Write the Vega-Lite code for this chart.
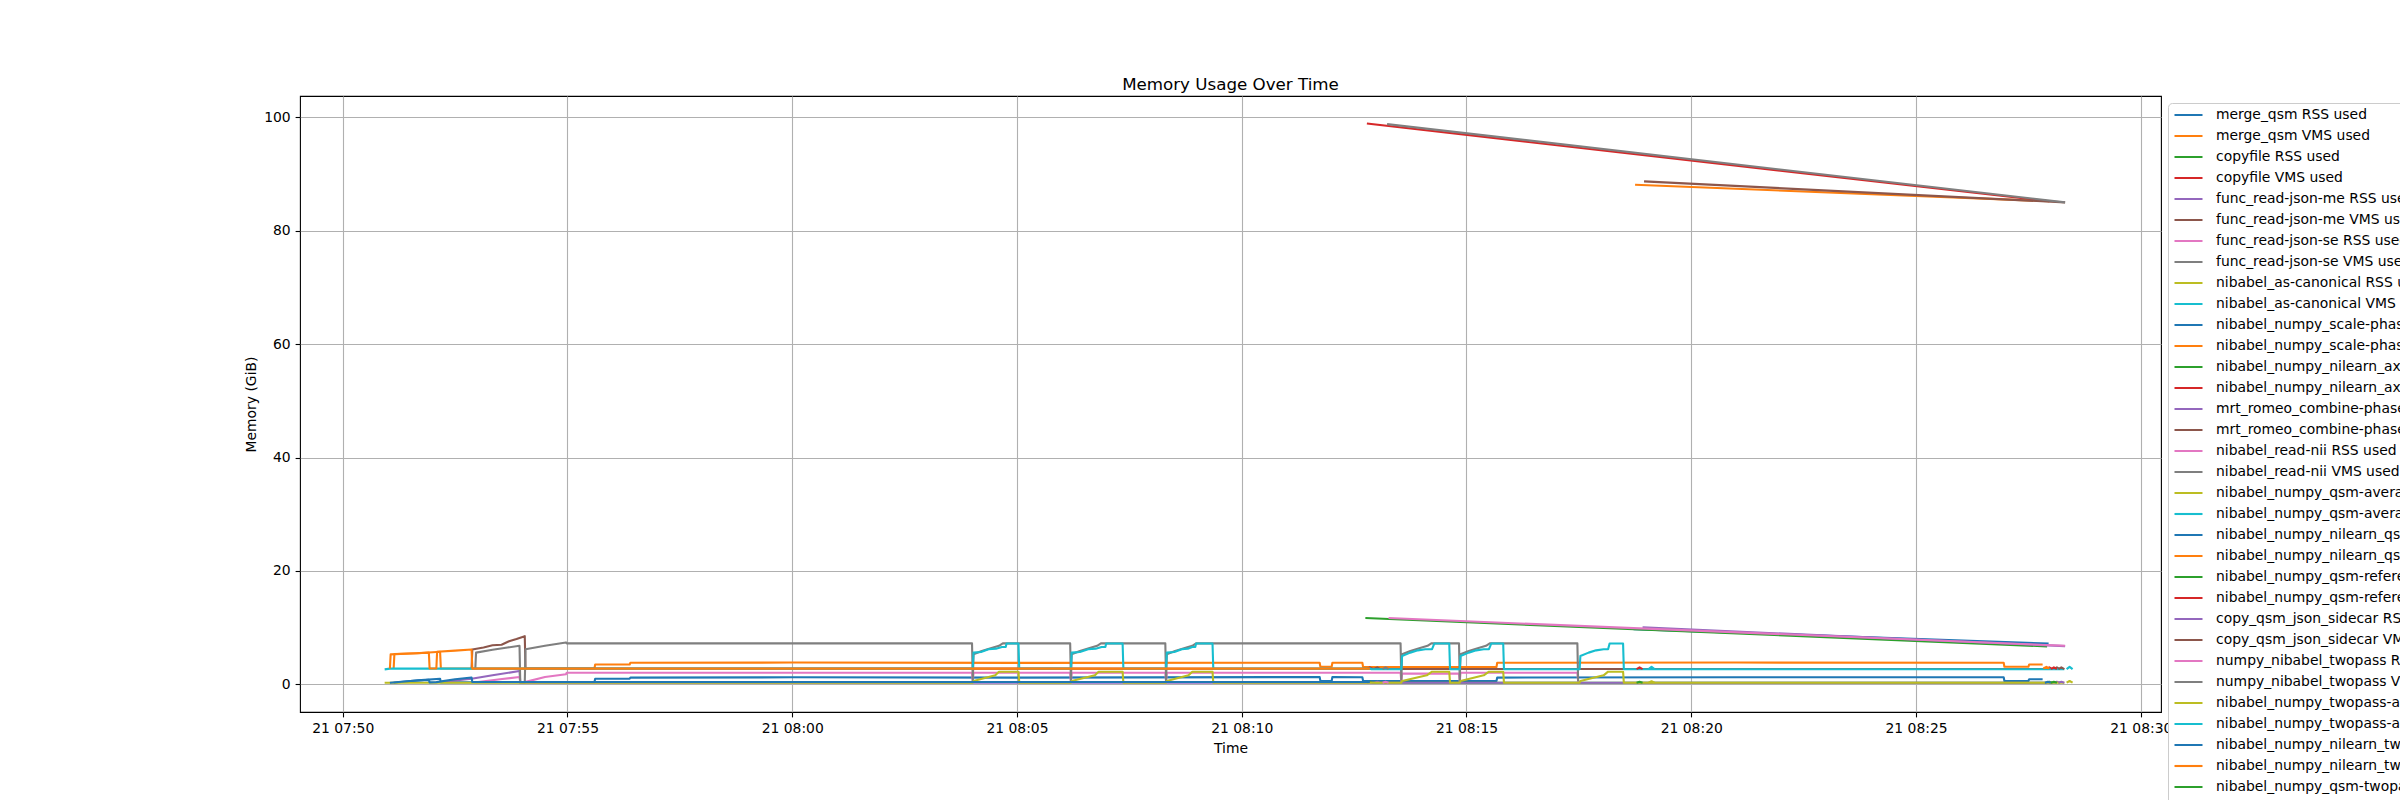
{
  "$schema": "https://vega.github.io/schema/vega-lite/v6.json",
  "width": 1861,
  "height": 616,
  "autosize": {"type": "none"},
  "padding": {"left": 300, "top": 96, "right": 239, "bottom": 88},
  "background": "white",
  "title": {
    "text": "Memory Usage Over Time",
    "fontSize": 16.7,
    "fontWeight": "normal",
    "color": "black",
    "font": "DejaVu Sans",
    "anchor": "middle",
    "offset": 2.5
  },
  "config": {
    "font": "DejaVu Sans",
    "view": {"stroke": "black", "strokeWidth": 1.1},
    "axis": {
      "domain": false,
      "grid": true,
      "gridColor": "#b0b0b0",
      "gridWidth": 1.1,
      "gridOpacity": 1,
      "tickColor": "black",
      "tickSize": 4.9,
      "tickWidth": 1.1,
      "labelPadding": 4.9,
      "labelFont": "DejaVu Sans",
      "labelFontSize": 13.9,
      "labelColor": "black",
      "titleFont": "DejaVu Sans",
      "titleFontSize": 13.9,
      "titleFontWeight": "normal",
      "titleColor": "black",
      "titlePadding": 5.6
    }
  },
  "data": {
    "values": [
      {"series": "merge_qsm RSS used", "time": "2024-05-21T07:51:08", "mem": 0.3},
      {"series": "merge_qsm RSS used", "time": "2024-05-21T07:51:40", "mem": 0.7},
      {"series": "merge_qsm RSS used", "time": "2024-05-21T07:52:10", "mem": 1.0},
      {"series": "merge_qsm RSS used", "time": "2024-05-21T07:52:11", "mem": 0.35},
      {"series": "merge_qsm RSS used", "time": "2024-05-21T07:55:36", "mem": 0.4},
      {"series": "merge_qsm RSS used", "time": "2024-05-21T07:55:37", "mem": 1.0},
      {"series": "merge_qsm RSS used", "time": "2024-05-21T07:56:23", "mem": 1.0},
      {"series": "merge_qsm RSS used", "time": "2024-05-21T07:56:24", "mem": 1.2},
      {"series": "merge_qsm RSS used", "time": "2024-05-21T08:00:00", "mem": 1.25},
      {"series": "merge_qsm RSS used", "time": "2024-05-21T08:05:00", "mem": 1.2},
      {"series": "merge_qsm RSS used", "time": "2024-05-21T08:11:44", "mem": 1.3},
      {"series": "merge_qsm RSS used", "time": "2024-05-21T08:11:45", "mem": 0.6},
      {"series": "merge_qsm RSS used", "time": "2024-05-21T08:12:00", "mem": 0.6},
      {"series": "merge_qsm RSS used", "time": "2024-05-21T08:12:01", "mem": 1.3},
      {"series": "merge_qsm RSS used", "time": "2024-05-21T08:12:41", "mem": 1.25},
      {"series": "merge_qsm RSS used", "time": "2024-05-21T08:12:42", "mem": 0.6},
      {"series": "merge_qsm RSS used", "time": "2024-05-21T08:15:40", "mem": 0.6},
      {"series": "merge_qsm RSS used", "time": "2024-05-21T08:15:41", "mem": 1.2},
      {"series": "merge_qsm RSS used", "time": "2024-05-21T08:21:00", "mem": 1.25},
      {"series": "merge_qsm RSS used", "time": "2024-05-21T08:26:57", "mem": 1.25},
      {"series": "merge_qsm RSS used", "time": "2024-05-21T08:26:58", "mem": 0.6},
      {"series": "merge_qsm RSS used", "time": "2024-05-21T08:27:30", "mem": 0.6},
      {"series": "merge_qsm RSS used", "time": "2024-05-21T08:27:31", "mem": 0.9},
      {"series": "merge_qsm RSS used", "time": "2024-05-21T08:27:49", "mem": 0.9},
      {"series": "merge_qsm VMS used", "time": "2024-05-21T07:51:08", "mem": 2.8},
      {"series": "merge_qsm VMS used", "time": "2024-05-21T07:51:09", "mem": 5.35},
      {"series": "merge_qsm VMS used", "time": "2024-05-21T07:51:40", "mem": 5.5},
      {"series": "merge_qsm VMS used", "time": "2024-05-21T07:52:10", "mem": 5.75},
      {"series": "merge_qsm VMS used", "time": "2024-05-21T07:52:11", "mem": 2.8},
      {"series": "merge_qsm VMS used", "time": "2024-05-21T07:55:36", "mem": 2.8},
      {"series": "merge_qsm VMS used", "time": "2024-05-21T07:55:37", "mem": 3.5},
      {"series": "merge_qsm VMS used", "time": "2024-05-21T07:56:23", "mem": 3.5},
      {"series": "merge_qsm VMS used", "time": "2024-05-21T07:56:24", "mem": 3.82},
      {"series": "merge_qsm VMS used", "time": "2024-05-21T08:00:00", "mem": 3.85},
      {"series": "merge_qsm VMS used", "time": "2024-05-21T08:05:00", "mem": 3.8},
      {"series": "merge_qsm VMS used", "time": "2024-05-21T08:11:44", "mem": 3.82},
      {"series": "merge_qsm VMS used", "time": "2024-05-21T08:11:45", "mem": 3.1},
      {"series": "merge_qsm VMS used", "time": "2024-05-21T08:12:00", "mem": 3.1},
      {"series": "merge_qsm VMS used", "time": "2024-05-21T08:12:01", "mem": 3.82},
      {"series": "merge_qsm VMS used", "time": "2024-05-21T08:12:41", "mem": 3.82},
      {"series": "merge_qsm VMS used", "time": "2024-05-21T08:12:42", "mem": 3.05},
      {"series": "merge_qsm VMS used", "time": "2024-05-21T08:15:40", "mem": 3.05},
      {"series": "merge_qsm VMS used", "time": "2024-05-21T08:15:41", "mem": 3.82},
      {"series": "merge_qsm VMS used", "time": "2024-05-21T08:21:00", "mem": 3.85},
      {"series": "merge_qsm VMS used", "time": "2024-05-21T08:26:57", "mem": 3.82},
      {"series": "merge_qsm VMS used", "time": "2024-05-21T08:26:58", "mem": 3.1},
      {"series": "merge_qsm VMS used", "time": "2024-05-21T08:27:30", "mem": 3.1},
      {"series": "merge_qsm VMS used", "time": "2024-05-21T08:27:31", "mem": 3.5},
      {"series": "merge_qsm VMS used", "time": "2024-05-21T08:27:49", "mem": 3.5},
      {"series": "copyfile RSS used", "time": "2024-05-21T08:12:47", "mem": 0.3},
      {"series": "copyfile RSS used", "time": "2024-05-21T08:12:51", "mem": 0.45},
      {"series": "copyfile RSS used", "time": "2024-05-21T08:12:55", "mem": 0.3},
      {"series": "copyfile RSS used", "time": "2024-05-21T08:27:54", "mem": 0.3},
      {"series": "copyfile RSS used", "time": "2024-05-21T08:27:58", "mem": 0.45},
      {"series": "copyfile RSS used", "time": "2024-05-21T08:28:02", "mem": 0.3},
      {"series": "copyfile VMS used", "time": "2024-05-21T08:12:47", "mem": 2.7},
      {"series": "copyfile VMS used", "time": "2024-05-21T08:12:51", "mem": 3.0},
      {"series": "copyfile VMS used", "time": "2024-05-21T08:12:55", "mem": 2.7},
      {"series": "copyfile VMS used", "time": "2024-05-21T08:27:54", "mem": 2.7},
      {"series": "copyfile VMS used", "time": "2024-05-21T08:27:58", "mem": 3.0},
      {"series": "copyfile VMS used", "time": "2024-05-21T08:28:02", "mem": 2.7},
      {"series": "func_read-json-me RSS used", "time": "2024-05-21T07:52:18", "mem": 0.5},
      {"series": "func_read-json-me RSS used", "time": "2024-05-21T07:52:52", "mem": 1.0},
      {"series": "func_read-json-me RSS used", "time": "2024-05-21T07:53:20", "mem": 1.6},
      {"series": "func_read-json-me RSS used", "time": "2024-05-21T07:53:56", "mem": 2.35},
      {"series": "func_read-json-me RSS used", "time": "2024-05-21T07:53:57", "mem": 0.3},
      {"series": "func_read-json-me RSS used", "time": "2024-05-21T08:12:57", "mem": 0.3},
      {"series": "func_read-json-me RSS used", "time": "2024-05-21T08:13:01", "mem": 0.45},
      {"series": "func_read-json-me RSS used", "time": "2024-05-21T08:13:05", "mem": 0.3},
      {"series": "func_read-json-me RSS used", "time": "2024-05-21T08:28:04", "mem": 0.3},
      {"series": "func_read-json-me RSS used", "time": "2024-05-21T08:28:08", "mem": 0.45},
      {"series": "func_read-json-me RSS used", "time": "2024-05-21T08:28:12", "mem": 0.3},
      {"series": "func_read-json-me VMS used", "time": "2024-05-21T07:52:52", "mem": 2.8},
      {"series": "func_read-json-me VMS used", "time": "2024-05-21T07:52:53", "mem": 6.15},
      {"series": "func_read-json-me VMS used", "time": "2024-05-21T07:53:08", "mem": 6.5},
      {"series": "func_read-json-me VMS used", "time": "2024-05-21T07:53:20", "mem": 6.9},
      {"series": "func_read-json-me VMS used", "time": "2024-05-21T07:53:32", "mem": 7.0},
      {"series": "func_read-json-me VMS used", "time": "2024-05-21T07:53:42", "mem": 7.6},
      {"series": "func_read-json-me VMS used", "time": "2024-05-21T07:53:52", "mem": 8.0},
      {"series": "func_read-json-me VMS used", "time": "2024-05-21T07:54:03", "mem": 8.5},
      {"series": "func_read-json-me VMS used", "time": "2024-05-21T07:54:04", "mem": 2.8},
      {"series": "func_read-json-me VMS used", "time": "2024-05-21T08:12:57", "mem": 2.75},
      {"series": "func_read-json-me VMS used", "time": "2024-05-21T08:13:01", "mem": 3.0},
      {"series": "func_read-json-me VMS used", "time": "2024-05-21T08:13:05", "mem": 2.7},
      {"series": "func_read-json-me VMS used", "time": "2024-05-21T08:28:04", "mem": 2.7},
      {"series": "func_read-json-me VMS used", "time": "2024-05-21T08:28:08", "mem": 3.0},
      {"series": "func_read-json-me VMS used", "time": "2024-05-21T08:28:12", "mem": 2.7},
      {"series": "func_read-json-se RSS used", "time": "2024-05-21T07:52:58", "mem": 0.35},
      {"series": "func_read-json-se RSS used", "time": "2024-05-21T07:53:30", "mem": 0.9},
      {"series": "func_read-json-se RSS used", "time": "2024-05-21T07:53:56", "mem": 1.3},
      {"series": "func_read-json-se RSS used", "time": "2024-05-21T07:53:57", "mem": 0.3},
      {"series": "func_read-json-se RSS used", "time": "2024-05-21T07:54:03", "mem": 0.4},
      {"series": "func_read-json-se RSS used", "time": "2024-05-21T07:54:30", "mem": 1.3},
      {"series": "func_read-json-se RSS used", "time": "2024-05-21T07:54:58", "mem": 1.8},
      {"series": "func_read-json-se RSS used", "time": "2024-05-21T07:54:59", "mem": 2.06},
      {"series": "func_read-json-se RSS used", "time": "2024-05-21T08:04:00", "mem": 2.06},
      {"series": "func_read-json-se RSS used", "time": "2024-05-21T08:04:01", "mem": 0.5},
      {"series": "func_read-json-se RSS used", "time": "2024-05-21T08:04:02", "mem": 2.06},
      {"series": "func_read-json-se RSS used", "time": "2024-05-21T08:06:11", "mem": 2.06},
      {"series": "func_read-json-se RSS used", "time": "2024-05-21T08:06:12", "mem": 0.5},
      {"series": "func_read-json-se RSS used", "time": "2024-05-21T08:06:13", "mem": 2.06},
      {"series": "func_read-json-se RSS used", "time": "2024-05-21T08:08:18", "mem": 2.06},
      {"series": "func_read-json-se RSS used", "time": "2024-05-21T08:08:19", "mem": 0.5},
      {"series": "func_read-json-se RSS used", "time": "2024-05-21T08:08:20", "mem": 2.06},
      {"series": "func_read-json-se RSS used", "time": "2024-05-21T08:13:32", "mem": 2.06},
      {"series": "func_read-json-se RSS used", "time": "2024-05-21T08:13:33", "mem": 0.5},
      {"series": "func_read-json-se RSS used", "time": "2024-05-21T08:13:34", "mem": 1.9},
      {"series": "func_read-json-se RSS used", "time": "2024-05-21T08:14:50", "mem": 1.9},
      {"series": "func_read-json-se RSS used", "time": "2024-05-21T08:14:51", "mem": 0.5},
      {"series": "func_read-json-se RSS used", "time": "2024-05-21T08:14:52", "mem": 2.06},
      {"series": "func_read-json-se RSS used", "time": "2024-05-21T08:17:28", "mem": 2.06},
      {"series": "func_read-json-se RSS used", "time": "2024-05-21T08:17:29", "mem": 0.5},
      {"series": "func_read-json-se VMS used", "time": "2024-05-21T07:52:57", "mem": 2.8},
      {"series": "func_read-json-se VMS used", "time": "2024-05-21T07:52:58", "mem": 5.6},
      {"series": "func_read-json-se VMS used", "time": "2024-05-21T07:53:20", "mem": 6.1},
      {"series": "func_read-json-se VMS used", "time": "2024-05-21T07:53:40", "mem": 6.5},
      {"series": "func_read-json-se VMS used", "time": "2024-05-21T07:53:56", "mem": 6.8},
      {"series": "func_read-json-se VMS used", "time": "2024-05-21T07:53:57", "mem": 0.3},
      {"series": "func_read-json-se VMS used", "time": "2024-05-21T07:54:03", "mem": 0.3},
      {"series": "func_read-json-se VMS used", "time": "2024-05-21T07:54:04", "mem": 6.2},
      {"series": "func_read-json-se VMS used", "time": "2024-05-21T07:54:30", "mem": 6.8},
      {"series": "func_read-json-se VMS used", "time": "2024-05-21T07:54:58", "mem": 7.4},
      {"series": "func_read-json-se VMS used", "time": "2024-05-21T07:54:59", "mem": 7.23},
      {"series": "func_read-json-se VMS used", "time": "2024-05-21T08:04:00", "mem": 7.23},
      {"series": "func_read-json-se VMS used", "time": "2024-05-21T08:04:01", "mem": 0.5},
      {"series": "func_read-json-se VMS used", "time": "2024-05-21T08:04:02", "mem": 5.3},
      {"series": "func_read-json-se VMS used", "time": "2024-05-21T08:04:13", "mem": 5.9},
      {"series": "func_read-json-se VMS used", "time": "2024-05-21T08:04:26", "mem": 6.4},
      {"series": "func_read-json-se VMS used", "time": "2024-05-21T08:04:36", "mem": 6.8},
      {"series": "func_read-json-se VMS used", "time": "2024-05-21T08:04:41", "mem": 7.23},
      {"series": "func_read-json-se VMS used", "time": "2024-05-21T08:06:11", "mem": 7.23},
      {"series": "func_read-json-se VMS used", "time": "2024-05-21T08:06:12", "mem": 0.5},
      {"series": "func_read-json-se VMS used", "time": "2024-05-21T08:06:13", "mem": 5.3},
      {"series": "func_read-json-se VMS used", "time": "2024-05-21T08:06:24", "mem": 5.9},
      {"series": "func_read-json-se VMS used", "time": "2024-05-21T08:06:37", "mem": 6.4},
      {"series": "func_read-json-se VMS used", "time": "2024-05-21T08:06:47", "mem": 6.8},
      {"series": "func_read-json-se VMS used", "time": "2024-05-21T08:06:52", "mem": 7.23},
      {"series": "func_read-json-se VMS used", "time": "2024-05-21T08:08:18", "mem": 7.23},
      {"series": "func_read-json-se VMS used", "time": "2024-05-21T08:08:19", "mem": 0.5},
      {"series": "func_read-json-se VMS used", "time": "2024-05-21T08:08:20", "mem": 5.3},
      {"series": "func_read-json-se VMS used", "time": "2024-05-21T08:08:31", "mem": 5.9},
      {"series": "func_read-json-se VMS used", "time": "2024-05-21T08:08:44", "mem": 6.4},
      {"series": "func_read-json-se VMS used", "time": "2024-05-21T08:08:54", "mem": 6.8},
      {"series": "func_read-json-se VMS used", "time": "2024-05-21T08:08:59", "mem": 7.23},
      {"series": "func_read-json-se VMS used", "time": "2024-05-21T08:13:32", "mem": 7.23},
      {"series": "func_read-json-se VMS used", "time": "2024-05-21T08:13:33", "mem": 0.5},
      {"series": "func_read-json-se VMS used", "time": "2024-05-21T08:13:34", "mem": 5.3},
      {"series": "func_read-json-se VMS used", "time": "2024-05-21T08:13:45", "mem": 5.9},
      {"series": "func_read-json-se VMS used", "time": "2024-05-21T08:13:58", "mem": 6.4},
      {"series": "func_read-json-se VMS used", "time": "2024-05-21T08:14:08", "mem": 6.8},
      {"series": "func_read-json-se VMS used", "time": "2024-05-21T08:14:13", "mem": 7.23},
      {"series": "func_read-json-se VMS used", "time": "2024-05-21T08:14:50", "mem": 7.23},
      {"series": "func_read-json-se VMS used", "time": "2024-05-21T08:14:51", "mem": 0.5},
      {"series": "func_read-json-se VMS used", "time": "2024-05-21T08:14:52", "mem": 5.3},
      {"series": "func_read-json-se VMS used", "time": "2024-05-21T08:15:03", "mem": 5.9},
      {"series": "func_read-json-se VMS used", "time": "2024-05-21T08:15:16", "mem": 6.4},
      {"series": "func_read-json-se VMS used", "time": "2024-05-21T08:15:26", "mem": 6.8},
      {"series": "func_read-json-se VMS used", "time": "2024-05-21T08:15:31", "mem": 7.23},
      {"series": "func_read-json-se VMS used", "time": "2024-05-21T08:17:28", "mem": 7.23},
      {"series": "func_read-json-se VMS used", "time": "2024-05-21T08:17:29", "mem": 0.5},
      {"series": "nibabel_as-canonical RSS used", "time": "2024-05-21T07:50:56", "mem": 0.3},
      {"series": "nibabel_as-canonical RSS used", "time": "2024-05-21T08:04:01", "mem": 0.3},
      {"series": "nibabel_as-canonical RSS used", "time": "2024-05-21T08:04:02", "mem": 0.6},
      {"series": "nibabel_as-canonical RSS used", "time": "2024-05-21T08:04:31", "mem": 1.6},
      {"series": "nibabel_as-canonical RSS used", "time": "2024-05-21T08:04:36", "mem": 2.24},
      {"series": "nibabel_as-canonical RSS used", "time": "2024-05-21T08:05:02", "mem": 2.24},
      {"series": "nibabel_as-canonical RSS used", "time": "2024-05-21T08:05:03", "mem": 0.3},
      {"series": "nibabel_as-canonical RSS used", "time": "2024-05-21T08:06:12", "mem": 0.3},
      {"series": "nibabel_as-canonical RSS used", "time": "2024-05-21T08:06:13", "mem": 0.6},
      {"series": "nibabel_as-canonical RSS used", "time": "2024-05-21T08:06:44", "mem": 1.6},
      {"series": "nibabel_as-canonical RSS used", "time": "2024-05-21T08:06:49", "mem": 2.24},
      {"series": "nibabel_as-canonical RSS used", "time": "2024-05-21T08:07:21", "mem": 2.24},
      {"series": "nibabel_as-canonical RSS used", "time": "2024-05-21T08:07:22", "mem": 0.3},
      {"series": "nibabel_as-canonical RSS used", "time": "2024-05-21T08:08:19", "mem": 0.3},
      {"series": "nibabel_as-canonical RSS used", "time": "2024-05-21T08:08:20", "mem": 0.6},
      {"series": "nibabel_as-canonical RSS used", "time": "2024-05-21T08:08:49", "mem": 1.6},
      {"series": "nibabel_as-canonical RSS used", "time": "2024-05-21T08:08:54", "mem": 2.24},
      {"series": "nibabel_as-canonical RSS used", "time": "2024-05-21T08:09:21", "mem": 2.24},
      {"series": "nibabel_as-canonical RSS used", "time": "2024-05-21T08:09:22", "mem": 0.3},
      {"series": "nibabel_as-canonical RSS used", "time": "2024-05-21T08:13:33", "mem": 0.3},
      {"series": "nibabel_as-canonical RSS used", "time": "2024-05-21T08:13:34", "mem": 0.6},
      {"series": "nibabel_as-canonical RSS used", "time": "2024-05-21T08:14:07", "mem": 1.6},
      {"series": "nibabel_as-canonical RSS used", "time": "2024-05-21T08:14:14", "mem": 2.24},
      {"series": "nibabel_as-canonical RSS used", "time": "2024-05-21T08:14:37", "mem": 2.24},
      {"series": "nibabel_as-canonical RSS used", "time": "2024-05-21T08:14:38", "mem": 0.3},
      {"series": "nibabel_as-canonical RSS used", "time": "2024-05-21T08:14:51", "mem": 0.3},
      {"series": "nibabel_as-canonical RSS used", "time": "2024-05-21T08:14:52", "mem": 0.6},
      {"series": "nibabel_as-canonical RSS used", "time": "2024-05-21T08:15:23", "mem": 1.6},
      {"series": "nibabel_as-canonical RSS used", "time": "2024-05-21T08:15:30", "mem": 2.24},
      {"series": "nibabel_as-canonical RSS used", "time": "2024-05-21T08:15:49", "mem": 2.24},
      {"series": "nibabel_as-canonical RSS used", "time": "2024-05-21T08:15:50", "mem": 0.3},
      {"series": "nibabel_as-canonical RSS used", "time": "2024-05-21T08:17:31", "mem": 0.3},
      {"series": "nibabel_as-canonical RSS used", "time": "2024-05-21T08:17:32", "mem": 0.6},
      {"series": "nibabel_as-canonical RSS used", "time": "2024-05-21T08:18:03", "mem": 1.6},
      {"series": "nibabel_as-canonical RSS used", "time": "2024-05-21T08:18:09", "mem": 2.24},
      {"series": "nibabel_as-canonical RSS used", "time": "2024-05-21T08:18:29", "mem": 2.24},
      {"series": "nibabel_as-canonical RSS used", "time": "2024-05-21T08:18:30", "mem": 0.3},
      {"series": "nibabel_as-canonical RSS used", "time": "2024-05-21T08:28:18", "mem": 0.3},
      {"series": "nibabel_as-canonical VMS used", "time": "2024-05-21T07:50:56", "mem": 2.65},
      {"series": "nibabel_as-canonical VMS used", "time": "2024-05-21T07:51:03", "mem": 2.78},
      {"series": "nibabel_as-canonical VMS used", "time": "2024-05-21T08:04:01", "mem": 2.78},
      {"series": "nibabel_as-canonical VMS used", "time": "2024-05-21T08:04:02", "mem": 5.6},
      {"series": "nibabel_as-canonical VMS used", "time": "2024-05-21T08:04:12", "mem": 5.7},
      {"series": "nibabel_as-canonical VMS used", "time": "2024-05-21T08:04:22", "mem": 6.2},
      {"series": "nibabel_as-canonical VMS used", "time": "2024-05-21T08:04:32", "mem": 6.3},
      {"series": "nibabel_as-canonical VMS used", "time": "2024-05-21T08:04:40", "mem": 6.6},
      {"series": "nibabel_as-canonical VMS used", "time": "2024-05-21T08:04:45", "mem": 6.6},
      {"series": "nibabel_as-canonical VMS used", "time": "2024-05-21T08:04:46", "mem": 7.2},
      {"series": "nibabel_as-canonical VMS used", "time": "2024-05-21T08:05:02", "mem": 7.2},
      {"series": "nibabel_as-canonical VMS used", "time": "2024-05-21T08:05:03", "mem": 2.78},
      {"series": "nibabel_as-canonical VMS used", "time": "2024-05-21T08:06:12", "mem": 2.78},
      {"series": "nibabel_as-canonical VMS used", "time": "2024-05-21T08:06:13", "mem": 5.6},
      {"series": "nibabel_as-canonical VMS used", "time": "2024-05-21T08:06:24", "mem": 5.7},
      {"series": "nibabel_as-canonical VMS used", "time": "2024-05-21T08:06:35", "mem": 6.2},
      {"series": "nibabel_as-canonical VMS used", "time": "2024-05-21T08:06:45", "mem": 6.3},
      {"series": "nibabel_as-canonical VMS used", "time": "2024-05-21T08:06:53", "mem": 6.6},
      {"series": "nibabel_as-canonical VMS used", "time": "2024-05-21T08:06:58", "mem": 6.6},
      {"series": "nibabel_as-canonical VMS used", "time": "2024-05-21T08:06:59", "mem": 7.2},
      {"series": "nibabel_as-canonical VMS used", "time": "2024-05-21T08:07:21", "mem": 7.2},
      {"series": "nibabel_as-canonical VMS used", "time": "2024-05-21T08:07:22", "mem": 2.78},
      {"series": "nibabel_as-canonical VMS used", "time": "2024-05-21T08:08:19", "mem": 2.78},
      {"series": "nibabel_as-canonical VMS used", "time": "2024-05-21T08:08:20", "mem": 5.6},
      {"series": "nibabel_as-canonical VMS used", "time": "2024-05-21T08:08:30", "mem": 5.7},
      {"series": "nibabel_as-canonical VMS used", "time": "2024-05-21T08:08:40", "mem": 6.2},
      {"series": "nibabel_as-canonical VMS used", "time": "2024-05-21T08:08:48", "mem": 6.3},
      {"series": "nibabel_as-canonical VMS used", "time": "2024-05-21T08:08:54", "mem": 6.6},
      {"series": "nibabel_as-canonical VMS used", "time": "2024-05-21T08:08:58", "mem": 6.6},
      {"series": "nibabel_as-canonical VMS used", "time": "2024-05-21T08:08:59", "mem": 7.2},
      {"series": "nibabel_as-canonical VMS used", "time": "2024-05-21T08:09:21", "mem": 7.2},
      {"series": "nibabel_as-canonical VMS used", "time": "2024-05-21T08:09:22", "mem": 2.78},
      {"series": "nibabel_as-canonical VMS used", "time": "2024-05-21T08:12:52", "mem": 2.78},
      {"series": "nibabel_as-canonical VMS used", "time": "2024-05-21T08:12:53", "mem": 2.68},
      {"series": "nibabel_as-canonical VMS used", "time": "2024-05-21T08:13:33", "mem": 2.68},
      {"series": "nibabel_as-canonical VMS used", "time": "2024-05-21T08:13:34", "mem": 5.0},
      {"series": "nibabel_as-canonical VMS used", "time": "2024-05-21T08:13:45", "mem": 5.6},
      {"series": "nibabel_as-canonical VMS used", "time": "2024-05-21T08:13:55", "mem": 6.0},
      {"series": "nibabel_as-canonical VMS used", "time": "2024-05-21T08:14:05", "mem": 6.2},
      {"series": "nibabel_as-canonical VMS used", "time": "2024-05-21T08:14:14", "mem": 6.2},
      {"series": "nibabel_as-canonical VMS used", "time": "2024-05-21T08:14:17", "mem": 7.2},
      {"series": "nibabel_as-canonical VMS used", "time": "2024-05-21T08:14:37", "mem": 7.2},
      {"series": "nibabel_as-canonical VMS used", "time": "2024-05-21T08:14:38", "mem": 2.68},
      {"series": "nibabel_as-canonical VMS used", "time": "2024-05-21T08:14:51", "mem": 2.68},
      {"series": "nibabel_as-canonical VMS used", "time": "2024-05-21T08:14:52", "mem": 5.0},
      {"series": "nibabel_as-canonical VMS used", "time": "2024-05-21T08:15:03", "mem": 5.6},
      {"series": "nibabel_as-canonical VMS used", "time": "2024-05-21T08:15:13", "mem": 6.0},
      {"series": "nibabel_as-canonical VMS used", "time": "2024-05-21T08:15:23", "mem": 6.2},
      {"series": "nibabel_as-canonical VMS used", "time": "2024-05-21T08:15:30", "mem": 6.2},
      {"series": "nibabel_as-canonical VMS used", "time": "2024-05-21T08:15:33", "mem": 7.2},
      {"series": "nibabel_as-canonical VMS used", "time": "2024-05-21T08:15:49", "mem": 7.2},
      {"series": "nibabel_as-canonical VMS used", "time": "2024-05-21T08:15:50", "mem": 2.68},
      {"series": "nibabel_as-canonical VMS used", "time": "2024-05-21T08:17:31", "mem": 2.68},
      {"series": "nibabel_as-canonical VMS used", "time": "2024-05-21T08:17:32", "mem": 5.0},
      {"series": "nibabel_as-canonical VMS used", "time": "2024-05-21T08:17:43", "mem": 5.6},
      {"series": "nibabel_as-canonical VMS used", "time": "2024-05-21T08:17:53", "mem": 6.0},
      {"series": "nibabel_as-canonical VMS used", "time": "2024-05-21T08:18:03", "mem": 6.2},
      {"series": "nibabel_as-canonical VMS used", "time": "2024-05-21T08:18:09", "mem": 6.2},
      {"series": "nibabel_as-canonical VMS used", "time": "2024-05-21T08:18:11", "mem": 7.2},
      {"series": "nibabel_as-canonical VMS used", "time": "2024-05-21T08:18:29", "mem": 7.2},
      {"series": "nibabel_as-canonical VMS used", "time": "2024-05-21T08:18:30", "mem": 2.68},
      {"series": "nibabel_as-canonical VMS used", "time": "2024-05-21T08:28:18", "mem": 2.68},
      {"series": "nibabel_numpy_scale-phase RSS used", "time": "2024-05-21T07:51:03", "mem": 0.3},
      {"series": "nibabel_numpy_scale-phase RSS used", "time": "2024-05-21T07:51:30", "mem": 0.6},
      {"series": "nibabel_numpy_scale-phase RSS used", "time": "2024-05-21T07:51:55", "mem": 0.8},
      {"series": "nibabel_numpy_scale-phase RSS used", "time": "2024-05-21T07:51:56", "mem": 0.35},
      {"series": "nibabel_numpy_scale-phase RSS used", "time": "2024-05-21T07:52:05", "mem": 0.4},
      {"series": "nibabel_numpy_scale-phase RSS used", "time": "2024-05-21T07:52:30", "mem": 0.9},
      {"series": "nibabel_numpy_scale-phase RSS used", "time": "2024-05-21T07:52:52", "mem": 1.2},
      {"series": "nibabel_numpy_scale-phase RSS used", "time": "2024-05-21T07:52:53", "mem": 0.41},
      {"series": "nibabel_numpy_scale-phase RSS used", "time": "2024-05-21T08:12:51", "mem": 0.41},
      {"series": "nibabel_numpy_scale-phase VMS used", "time": "2024-05-21T07:51:03", "mem": 2.8},
      {"series": "nibabel_numpy_scale-phase VMS used", "time": "2024-05-21T07:51:04", "mem": 5.3},
      {"series": "nibabel_numpy_scale-phase VMS used", "time": "2024-05-21T07:51:30", "mem": 5.45},
      {"series": "nibabel_numpy_scale-phase VMS used", "time": "2024-05-21T07:51:55", "mem": 5.6},
      {"series": "nibabel_numpy_scale-phase VMS used", "time": "2024-05-21T07:51:56", "mem": 2.8},
      {"series": "nibabel_numpy_scale-phase VMS used", "time": "2024-05-21T07:52:05", "mem": 2.8},
      {"series": "nibabel_numpy_scale-phase VMS used", "time": "2024-05-21T07:52:06", "mem": 5.75},
      {"series": "nibabel_numpy_scale-phase VMS used", "time": "2024-05-21T07:52:30", "mem": 5.95},
      {"series": "nibabel_numpy_scale-phase VMS used", "time": "2024-05-21T07:52:52", "mem": 6.15},
      {"series": "nibabel_numpy_scale-phase VMS used", "time": "2024-05-21T07:52:53", "mem": 2.78},
      {"series": "nibabel_numpy_scale-phase VMS used", "time": "2024-05-21T08:12:51", "mem": 2.78},
      {"series": "nibabel_numpy_nilearn_axialize RSS used", "time": "2024-05-21T08:18:47", "mem": 0.3},
      {"series": "nibabel_numpy_nilearn_axialize RSS used", "time": "2024-05-21T08:18:51", "mem": 0.45},
      {"series": "nibabel_numpy_nilearn_axialize RSS used", "time": "2024-05-21T08:18:55", "mem": 0.3},
      {"series": "nibabel_numpy_nilearn_axialize VMS used", "time": "2024-05-21T08:18:47", "mem": 2.7},
      {"series": "nibabel_numpy_nilearn_axialize VMS used", "time": "2024-05-21T08:18:51", "mem": 3.0},
      {"series": "nibabel_numpy_nilearn_axialize VMS used", "time": "2024-05-21T08:18:55", "mem": 2.7},
      {"series": "mrt_romeo_combine-phase RSS used", "time": "2024-05-21T08:28:10", "mem": 0.3},
      {"series": "mrt_romeo_combine-phase RSS used", "time": "2024-05-21T08:28:14", "mem": 0.45},
      {"series": "mrt_romeo_combine-phase RSS used", "time": "2024-05-21T08:28:18", "mem": 0.3},
      {"series": "mrt_romeo_combine-phase VMS used", "time": "2024-05-21T08:28:10", "mem": 2.7},
      {"series": "mrt_romeo_combine-phase VMS used", "time": "2024-05-21T08:28:14", "mem": 3.0},
      {"series": "mrt_romeo_combine-phase VMS used", "time": "2024-05-21T08:28:18", "mem": 2.7},
      {"series": "nibabel_read-nii RSS used", "time": "2024-05-21T08:13:08", "mem": 0.3},
      {"series": "nibabel_read-nii RSS used", "time": "2024-05-21T08:13:12", "mem": 0.45},
      {"series": "nibabel_read-nii RSS used", "time": "2024-05-21T08:13:16", "mem": 0.3},
      {"series": "nibabel_read-nii VMS used", "time": "2024-05-21T08:13:08", "mem": 2.7},
      {"series": "nibabel_read-nii VMS used", "time": "2024-05-21T08:13:12", "mem": 3.0},
      {"series": "nibabel_read-nii VMS used", "time": "2024-05-21T08:13:16", "mem": 2.7},
      {"series": "nibabel_numpy_qsm-average RSS used", "time": "2024-05-21T08:19:03", "mem": 0.3},
      {"series": "nibabel_numpy_qsm-average RSS used", "time": "2024-05-21T08:19:07", "mem": 0.55},
      {"series": "nibabel_numpy_qsm-average RSS used", "time": "2024-05-21T08:19:11", "mem": 0.3},
      {"series": "nibabel_numpy_qsm-average VMS used", "time": "2024-05-21T08:19:03", "mem": 2.7},
      {"series": "nibabel_numpy_qsm-average VMS used", "time": "2024-05-21T08:19:07", "mem": 3.1},
      {"series": "nibabel_numpy_qsm-average VMS used", "time": "2024-05-21T08:19:11", "mem": 2.7},
      {"series": "nibabel_numpy_nilearn_qsm-resample RSS used", "time": "2024-05-21T08:18:43", "mem": 9.75},
      {"series": "nibabel_numpy_nilearn_qsm-resample RSS used", "time": "2024-05-21T08:27:57", "mem": 7.2},
      {"series": "nibabel_numpy_nilearn_qsm-resample VMS used", "time": "2024-05-21T08:18:45", "mem": 88.1},
      {"series": "nibabel_numpy_nilearn_qsm-resample VMS used", "time": "2024-05-21T08:27:58", "mem": 85.2},
      {"series": "nibabel_numpy_qsm-reference RSS used", "time": "2024-05-21T08:12:45", "mem": 11.7},
      {"series": "nibabel_numpy_qsm-reference RSS used", "time": "2024-05-21T08:27:55", "mem": 6.7},
      {"series": "nibabel_numpy_qsm-reference VMS used", "time": "2024-05-21T08:12:47", "mem": 98.9},
      {"series": "nibabel_numpy_qsm-reference VMS used", "time": "2024-05-21T08:27:58", "mem": 85.2},
      {"series": "copy_qsm_json_sidecar RSS used", "time": "2024-05-21T08:18:55", "mem": 10.05},
      {"series": "copy_qsm_json_sidecar RSS used", "time": "2024-05-21T08:28:19", "mem": 6.75},
      {"series": "copy_qsm_json_sidecar VMS used", "time": "2024-05-21T08:18:57", "mem": 88.7},
      {"series": "copy_qsm_json_sidecar VMS used", "time": "2024-05-21T08:28:19", "mem": 85.0},
      {"series": "numpy_nibabel_twopass RSS used", "time": "2024-05-21T08:13:16", "mem": 11.7},
      {"series": "numpy_nibabel_twopass RSS used", "time": "2024-05-21T08:28:19", "mem": 6.8},
      {"series": "numpy_nibabel_twopass VMS used", "time": "2024-05-21T08:13:14", "mem": 98.8},
      {"series": "numpy_nibabel_twopass VMS used", "time": "2024-05-21T08:28:19", "mem": 85.0},
      {"series": "nibabel_numpy_twopass-average RSS used", "time": "2024-05-21T08:28:21", "mem": 0.3},
      {"series": "nibabel_numpy_twopass-average RSS used", "time": "2024-05-21T08:28:25", "mem": 0.6},
      {"series": "nibabel_numpy_twopass-average RSS used", "time": "2024-05-21T08:28:29", "mem": 0.3},
      {"series": "nibabel_numpy_twopass-average VMS used", "time": "2024-05-21T08:28:21", "mem": 2.7},
      {"series": "nibabel_numpy_twopass-average VMS used", "time": "2024-05-21T08:28:25", "mem": 3.1},
      {"series": "nibabel_numpy_twopass-average VMS used", "time": "2024-05-21T08:28:29", "mem": 2.7},
      {"series": "nibabel_numpy_nilearn_twopass-resample RSS used", "time": "2024-05-21T08:27:52", "mem": 0.3},
      {"series": "nibabel_numpy_nilearn_twopass-resample RSS used", "time": "2024-05-21T08:27:56", "mem": 0.45},
      {"series": "nibabel_numpy_nilearn_twopass-resample RSS used", "time": "2024-05-21T08:28:00", "mem": 0.3},
      {"series": "nibabel_numpy_nilearn_twopass-resample VMS used", "time": "2024-05-21T08:27:50", "mem": 2.8},
      {"series": "nibabel_numpy_nilearn_twopass-resample VMS used", "time": "2024-05-21T08:27:54", "mem": 3.1},
      {"series": "nibabel_numpy_nilearn_twopass-resample VMS used", "time": "2024-05-21T08:27:58", "mem": 2.8},
      {"series": "nibabel_numpy_qsm-twopass-reference RSS used", "time": "2024-05-21T08:28:00", "mem": 0.3},
      {"series": "nibabel_numpy_qsm-twopass-reference RSS used", "time": "2024-05-21T08:28:04", "mem": 0.45},
      {"series": "nibabel_numpy_qsm-twopass-reference RSS used", "time": "2024-05-21T08:28:08", "mem": 0.3},
      {"series": "nibabel_numpy_qsm-twopass-reference VMS used", "time": "2024-05-21T08:28:00", "mem": 2.7},
      {"series": "nibabel_numpy_qsm-twopass-reference VMS used", "time": "2024-05-21T08:28:04", "mem": 3.0},
      {"series": "nibabel_numpy_qsm-twopass-reference VMS used", "time": "2024-05-21T08:28:08", "mem": 2.7}
    ]
  },
  "mark": {"type": "line", "strokeWidth": 2.1, "strokeJoin": "round"},
  "encoding": {
    "x": {
      "field": "time",
      "type": "temporal",
      "scale": {
        "domain": [
          {"year": 2024, "month": 5, "date": 21, "hours": 7, "minutes": 49, "seconds": 3},
          {"year": 2024, "month": 5, "date": 21, "hours": 8, "minutes": 30, "seconds": 27}
        ]
      },
      "axis": {
        "title": "Time",
        "format": "%d %H:%M",
        "values": [
          {"year": 2024, "month": 5, "date": 21, "hours": 7, "minutes": 50},
          {"year": 2024, "month": 5, "date": 21, "hours": 7, "minutes": 55},
          {"year": 2024, "month": 5, "date": 21, "hours": 8, "minutes": 0},
          {"year": 2024, "month": 5, "date": 21, "hours": 8, "minutes": 5},
          {"year": 2024, "month": 5, "date": 21, "hours": 8, "minutes": 10},
          {"year": 2024, "month": 5, "date": 21, "hours": 8, "minutes": 15},
          {"year": 2024, "month": 5, "date": 21, "hours": 8, "minutes": 20},
          {"year": 2024, "month": 5, "date": 21, "hours": 8, "minutes": 25},
          {"year": 2024, "month": 5, "date": 21, "hours": 8, "minutes": 30}
        ]
      }
    },
    "y": {
      "field": "mem",
      "type": "quantitative",
      "scale": {"domain": [-4.87, 103.76], "nice": false, "zero": false},
      "axis": {"title": "Memory (GiB)", "values": [0, 20, 40, 60, 80, 100]}
    },
    "color": {
      "field": "series",
      "type": "nominal",
      "scale": {
        "domain": [
          "merge_qsm RSS used", "merge_qsm VMS used",
          "copyfile RSS used", "copyfile VMS used",
          "func_read-json-me RSS used", "func_read-json-me VMS used",
          "func_read-json-se RSS used", "func_read-json-se VMS used",
          "nibabel_as-canonical RSS used", "nibabel_as-canonical VMS used",
          "nibabel_numpy_scale-phase RSS used", "nibabel_numpy_scale-phase VMS used",
          "nibabel_numpy_nilearn_axialize RSS used", "nibabel_numpy_nilearn_axialize VMS used",
          "mrt_romeo_combine-phase RSS used", "mrt_romeo_combine-phase VMS used",
          "nibabel_read-nii RSS used", "nibabel_read-nii VMS used",
          "nibabel_numpy_qsm-average RSS used", "nibabel_numpy_qsm-average VMS used",
          "nibabel_numpy_nilearn_qsm-resample RSS used", "nibabel_numpy_nilearn_qsm-resample VMS used",
          "nibabel_numpy_qsm-reference RSS used", "nibabel_numpy_qsm-reference VMS used",
          "copy_qsm_json_sidecar RSS used", "copy_qsm_json_sidecar VMS used",
          "numpy_nibabel_twopass RSS used", "numpy_nibabel_twopass VMS used",
          "nibabel_numpy_twopass-average RSS used", "nibabel_numpy_twopass-average VMS used",
          "nibabel_numpy_nilearn_twopass-resample RSS used", "nibabel_numpy_nilearn_twopass-resample VMS used",
          "nibabel_numpy_qsm-twopass-reference RSS used", "nibabel_numpy_qsm-twopass-reference VMS used"
        ],
        "range": [
          "#1f77b4", "#ff7f0e", "#2ca02c", "#d62728", "#9467bd", "#8c564b", "#e377c2", "#7f7f7f", "#bcbd22", "#17becf",
          "#1f77b4", "#ff7f0e", "#2ca02c", "#d62728", "#9467bd", "#8c564b", "#e377c2", "#7f7f7f", "#bcbd22", "#17becf",
          "#1f77b4", "#ff7f0e", "#2ca02c", "#d62728", "#9467bd", "#8c564b", "#e377c2", "#7f7f7f", "#bcbd22", "#17becf",
          "#1f77b4", "#ff7f0e", "#2ca02c", "#d62728"
        ]
      },
      "legend": {
        "title": null,
        "orient": "none",
        "legendX": 1868,
        "legendY": 7,
        "direction": "vertical",
        "columns": 1,
        "symbolLimit": 0,
        "symbolType": "stroke",
        "symbolSize": 784,
        "symbolStrokeWidth": 2.1,
        "clipHeight": 14,
        "labelFont": "DejaVu Sans",
        "labelFontSize": 13.9,
        "labelColor": "black",
        "labelLimit": 1000,
        "labelOffset": 12,
        "rowPadding": 7,
        "padding": 5,
        "strokeColor": "#cccccc",
        "fillColor": "white",
        "cornerRadius": 4
      }
    }
  }
}
